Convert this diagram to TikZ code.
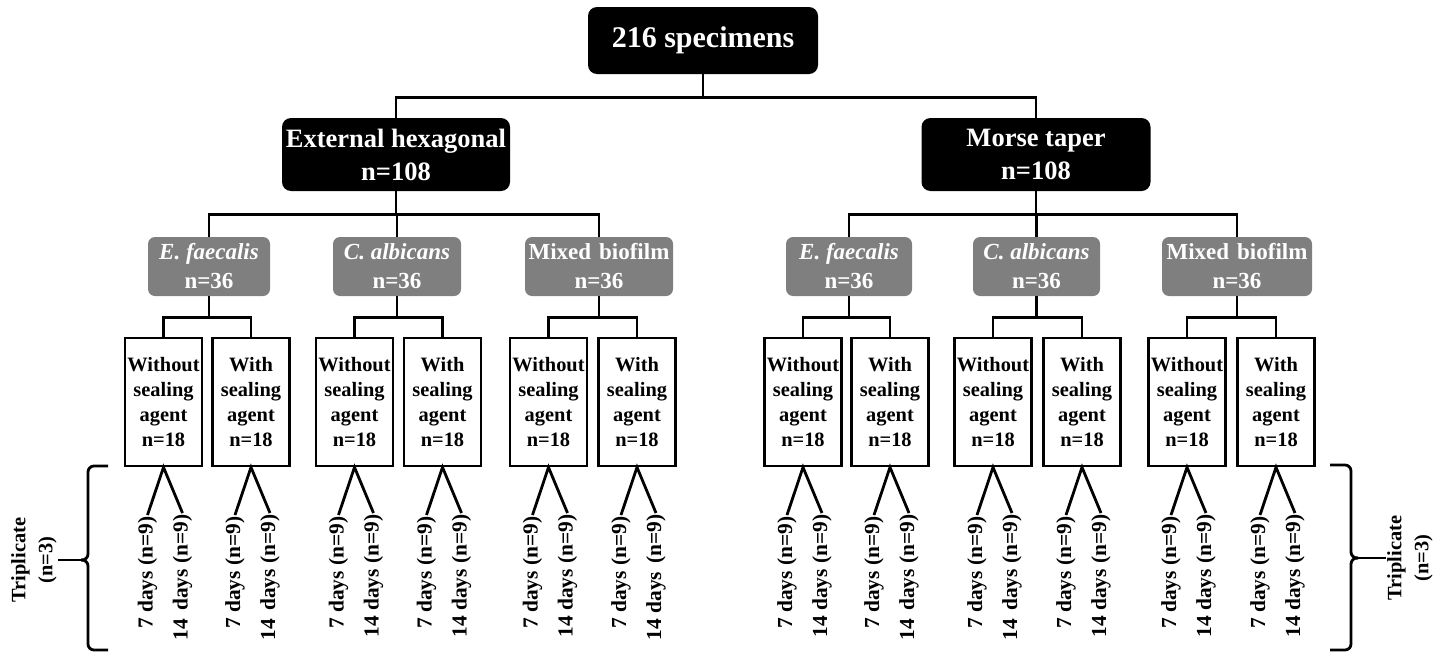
\documentclass[tikz,border=0pt]{standalone}
\usepackage{fontspec}
\setmainfont{Liberation Serif}
\definecolor{boxgray}{HTML}{7F7F7F}
\tikzset{
  blackbox/.style={rectangle, rounded corners=9pt, fill=black, text=white, align=center, inner sep=0pt},
  graybox/.style={rectangle, rounded corners=7pt, fill=boxgray, text=white, align=center, inner sep=0pt,
    minimum height=59pt, font=\bfseries\fontsize{23}{29}\selectfont},
  whitebox/.style={rectangle, draw=black, line width=2.6pt, minimum width=77pt, minimum height=128pt,
    inner sep=0pt, align=center, font=\bfseries\fontsize{20.4}{25}\selectfont},
  conn/.style={line width=2.8pt},
  daylabel/.style={rotate=90, anchor=east, inner sep=1.5pt, font=\bfseries\fontsize{21.4}{24}\selectfont},
  tripl/.style={rotate=90, align=center, inner sep=1pt, font=\bfseries\fontsize{20.4}{27}\selectfont},
}
\begin{document}
\begin{tikzpicture}[x=1pt, y=-1pt]
\useasboundingbox (0,0) rectangle (1442,653);

% top
\node[blackbox, minimum width=230pt, minimum height=67pt, font=\bfseries\fontsize{30}{36}\selectfont]
  (top) at (703,40.5) {216 specimens};
% level 2
\node[blackbox, minimum width=228pt, minimum height=73pt, font=\bfseries\fontsize{26.5}{33}\selectfont]
  (L) at (396,154.5) {External hexagonal\\n=108};
\node[blackbox, minimum width=229pt, minimum height=73pt, font=\bfseries\fontsize{26.5}{33}\selectfont]
  (R) at (1036,154.5) {Morse taper\\n=108};

\draw[conn] (top.south) -- ++(0,23) coordinate (t1) -| (L.north);
\draw[conn] (t1) -| (R.north);

% level 3
\node[graybox, minimum width=122pt] (g1) at (209,266.5) {\itshape E. faecalis\\n=36};
\node[graybox, minimum width=128pt] (g2) at (397,266.5) {\itshape C. albicans\\n=36};
\node[graybox, minimum width=148pt] (g3) at (599,266.5) {Mixed\hspace{8pt}biofilm\\n=36};
\node[graybox, minimum width=126pt] (g4) at (849,266.5) {\itshape E. faecalis\\n=36};
\node[graybox, minimum width=127pt] (g5) at (1036.5,266.5) {\itshape C. albicans\\n=36};
\node[graybox, minimum width=150pt] (g6) at (1237,266.5) {Mixed\hspace{8pt}biofilm\\n=36};

\foreach \p/\c in {L/g1, L/g2, L/g3, R/g4, R/g5, R/g6}{
  \draw[conn] (\p.south) -- ++(0,23) -| (\c.north);
}

% level 4
\foreach \i/\x/\w/\t in {
  1/163.5/Without/{14\hspace{8pt}days (n=9)},
  2/251/With/{14\hspace{8pt}days (n=9)},
  3/354.5/Without/{14 days (n=9)},
  4/442.5/With/{14 days (n=9)},
  5/548.5/Without/{14 days (n=9)},
  6/637/With/{14 days\hspace{8pt}(n=9)},
  7/803/Without/{14 days (n=9)},
  8/890/With/{14\hspace{8pt}days (n=9)},
  9/993/Without/{14\hspace{8pt}days (n=9)},
  10/1082/With/{14 days (n=9)},
  11/1187/Without/{14 days (n=9)},
  12/1276/With/{14 days (n=9)}}{
  \node[whitebox] (w\i) at (\x,402) {\w\\sealing\\agent\\n=18};
  \node[daylabel] (d\i) at (\x-16,515) {7 days (n=9)};
  \node[daylabel] (e\i) at (\x+19,513) {\t};
  \draw[conn] (d\i.east) -- (w\i.south) -- (e\i.east);
}

\foreach \c/\a/\b in {g1/w1/w2, g2/w3/w4, g3/w5/w6, g4/w7/w8, g5/w9/w10, g6/w11/w12}{
  \draw[conn] (\c.south) -- ++(0,21) coordinate (m) -| (\a.north);
  \draw[conn] (m) -| (\b.north);
}

% braces
\node[tripl] (trip1) at (34,560) {Triplicate\\(n=3)};
\coordinate (lb) at (81,560);
\draw[conn, rounded corners=6pt] (108,466) -- (88,466) -- (88,560) -- (lb);
\draw[conn, rounded corners=6pt] (108,650) -- (88,650) -- (88,560) -- (lb);
\draw[conn] (lb) -- (trip1.south);

\node[tripl] (trip2) at (1410,558) {Triplicate\\(n=3)};
\coordinate (rb) at (1358,558);
\draw[conn, rounded corners=6pt] (1330,465) -- (1351,465) -- (1351,558) -- (rb);
\draw[conn, rounded corners=6pt] (1330,650) -- (1351,650) -- (1351,558) -- (rb);
\draw[conn] (rb) -- (trip2.north);
\end{tikzpicture}
\end{document}
